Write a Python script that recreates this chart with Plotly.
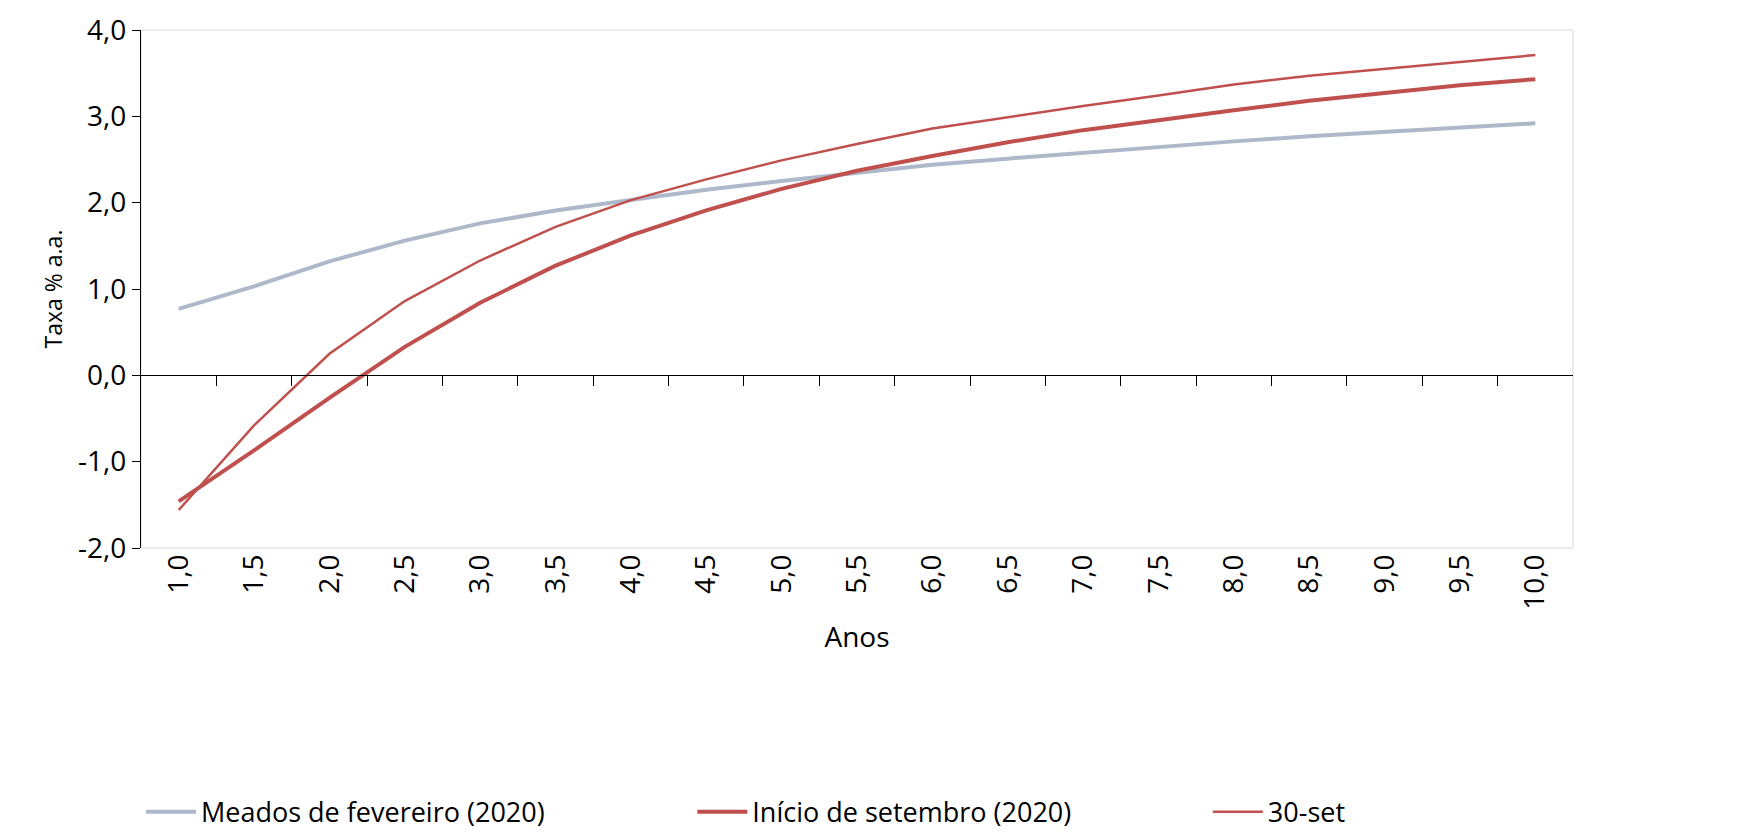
import plotly.graph_objects as go

anos = [1.0, 1.5, 2.0, 2.5, 3.0, 3.5, 4.0, 4.5, 5.0, 5.5, 6.0, 6.5, 7.0, 7.5, 8.0, 8.5, 9.0, 9.5, 10.0]
meados_fev = [0.77, 1.03, 1.32, 1.56, 1.76, 1.91, 2.03, 2.15, 2.25, 2.35, 2.44, 2.51, 2.58, 2.64, 2.71, 2.77, 2.82, 2.88, 2.92]
inicio_set = [-1.46, -0.87, -0.26, 0.33, 0.84, 1.27, 1.62, 1.91, 2.16, 2.37, 2.54, 2.70, 2.84, 2.96, 3.07, 3.18, 3.27, 3.36, 3.43]
trinta_set = [-1.56, -0.58, 0.25, 0.86, 1.33, 1.72, 2.03, 2.27, 2.49, 2.68, 2.86, 2.99, 3.12, 3.24, 3.37, 3.47, 3.55, 3.63, 3.71]
x_labels = [f"{a:.1f}".replace(".", ",") for a in anos]
y_ticks = [-2, -1, 0, 1, 2, 3, 4]
y_labels = [f"{v:.1f}".replace(".", ",") for v in y_ticks]

font = "Open Sans"

fig = go.Figure()
fig.add_trace(go.Scatter(x=anos, y=meados_fev, mode="lines", name="Meados de fevereiro (2020)",
                         line=dict(color="#adb9ca", width=4), legend="legend"))
fig.add_trace(go.Scatter(x=anos, y=inicio_set, mode="lines", name="Início de setembro (2020)",
                         line=dict(color="#c0504d", width=4), legend="legend2"))
fig.add_trace(go.Scatter(x=anos, y=trinta_set, mode="lines", name="30-set",
                         line=dict(color="#c0504d", width=2.5), legend="legend3"))

# invisible trace on xaxis2 so the tick marks along the zero line show up
fig.add_trace(go.Scatter(x=[anos[0]], y=[0], xaxis="x2", mode="markers",
                         marker=dict(opacity=0), showlegend=False, hoverinfo="skip"))

rng = [anos[0] - 0.25, anos[-1] + 0.25]
mids = [a + 0.25 for a in anos[:-1]]

leg = dict(orientation="h", xanchor="left", y=-0.51, yanchor="middle",
           font=dict(size=27), itemwidth=50, bgcolor="rgba(0,0,0,0)")

fig.update_layout(
    width=1746, height=840,
    margin=dict(l=133, r=181, t=22, b=289),
    plot_bgcolor="white", paper_bgcolor="white",
    font=dict(family=font, size=28, color="black"),
    showlegend=True,
    legend=dict(leg, x=0.0),
    legend2=dict(leg, x=0.385),
    legend3=dict(leg, x=0.745),
    xaxis=dict(range=rng, tickvals=anos, ticktext=x_labels, tickangle=-90,
               showgrid=False, zeroline=False, ticks="", showline=False,
               title=dict(text="Anos", font=dict(size=28), standoff=18)),
    xaxis2=dict(range=rng, overlaying="x", anchor="free", position=1 / 3,
                tickvals=mids, ticktext=[""] * len(mids), ticks="outside",
                ticklen=10, tickcolor="black", showline=True, linecolor="black",
                linewidth=1.2, showgrid=False, zeroline=False),
    yaxis=dict(range=[-2, 4], tickvals=y_ticks, ticktext=y_labels, showgrid=False,
               zeroline=False, showline=True, linecolor="black", linewidth=1.2,
               ticks="outside", ticklen=8, tickcolor="black", automargin=False,
               title=dict(text="Taxa % a.a.", font=dict(size=23), standoff=8)),
    shapes=[dict(type="rect", xref="paper", yref="paper", x0=0, x1=1, y0=0, y1=1,
                 line=dict(color="#d9d9d9", width=1), layer="below")],
)

fig.write_html("out.html")
